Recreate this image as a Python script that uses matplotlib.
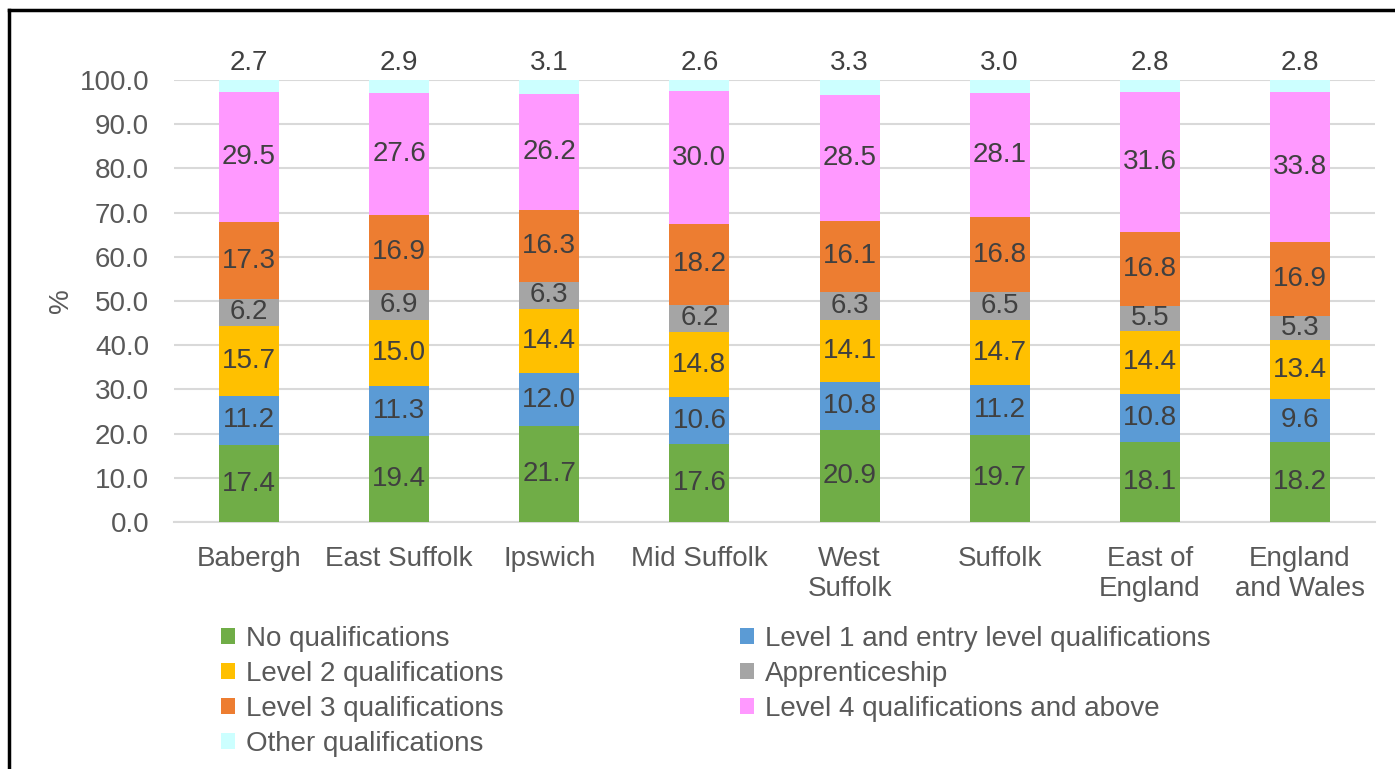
import numpy as np
import matplotlib
matplotlib.use('Agg')
from matplotlib import pyplot as plt
from matplotlib.lines import Line2D

plt.rcParams['font.family'] = ['Liberation Sans', 'DejaVu Sans']

# areas along the x axis
areas = ['Babergh', 'East Suffolk', 'Ipswich', 'Mid Suffolk', 'West\nSuffolk',
         'Suffolk', 'East of\nEngland', 'England\nand Wales']

# share of residents (%) by highest qualification
no_qual = [17.4, 19.4, 21.7, 17.6, 20.9, 19.7, 18.1, 18.2]
level1 = [11.2, 11.3, 12.0, 10.6, 10.8, 11.2, 10.8, 9.6]
level2 = [15.7, 15.0, 14.4, 14.8, 14.1, 14.7, 14.4, 13.4]
apprentice = [6.2, 6.9, 6.3, 6.2, 6.3, 6.5, 5.5, 5.3]
level3 = [17.3, 16.9, 16.3, 18.2, 16.1, 16.8, 16.8, 16.9]
level4 = [29.5, 27.6, 26.2, 30.0, 28.5, 28.1, 31.6, 33.8]
other = [2.7, 2.9, 3.1, 2.6, 3.3, 3.0, 2.8, 2.8]

series = [
    ('No qualifications', no_qual, '#70AD47'),
    ('Level 1 and entry level qualifications', level1, '#5B9BD5'),
    ('Level 2 qualifications', level2, '#FFC000'),
    ('Apprenticeship', apprentice, '#A5A5A5'),
    ('Level 3 qualifications', level3, '#ED7D31'),
    ('Level 4 qualifications and above', level4, '#FF99FF'),
    ('Other qualifications', other, '#CCFFFF'),
]

W, H = 1395, 769
fig = plt.figure(figsize=(W / 100, H / 100), dpi=100)
ax = fig.add_axes([174 / W, 1 - 522 / H, (1375 - 174) / W, (522 - 80) / H])

x = np.arange(len(areas))
bottom = np.zeros(len(areas))
handles = []
for i, (name, vals, col) in enumerate(series):
    vals = np.array(vals)
    bars = ax.bar(x, vals, 0.4, bottom=bottom, color=col, label=name, zorder=3)
    handles.append(bars)
    if i < len(series) - 1:
        for xi, b, v in zip(x, bottom, vals):
            ax.text(xi, b + v / 2, f'{v:.1f}', ha='center', va='center',
                    fontsize=20, color='#404040', zorder=4)
    else:
        # the last series is labelled above the bar
        for xi, b, v in zip(x, bottom, vals):
            ax.annotate(f'{v:.1f}', (xi, b + v), xytext=(0, 12),
                        textcoords='offset points', ha='center', va='center',
                        fontsize=20, color='#404040', annotation_clip=False)
    bottom = bottom + vals

ax.set_xlim(-0.5, len(areas) - 0.5)
ax.set_ylim(0, 100)
ax.set_yticks(np.arange(0, 101, 10))
ax.set_yticklabels([f'{t:.1f}' for t in np.arange(0, 101, 10)])
ax.set_xticks(x)
ax.set_xticklabels(areas, linespacing=1.2)
ax.tick_params(axis='both', length=0, labelsize=20, colors='#595959')
ax.tick_params(axis='y', pad=18)
ax.tick_params(axis='x', pad=17)
ax.yaxis.grid(True, color='#D9D9D9', lw=1.5, zorder=0)
for s in ['top', 'right', 'left']:
    ax.spines[s].set_visible(False)
ax.spines['bottom'].set_color('#D9D9D9')
ax.spines['bottom'].set_linewidth(1.5)
ax.set_ylabel('%', fontsize=20, color='#595959', labelpad=4)

# legend filled row by row, like the original
order = [0, 2, 4, 6, 1, 3, 5]
leg = fig.legend([handles[k] for k in order], [series[k][0] for k in order],
                 ncol=2, loc='upper left', bbox_to_anchor=(221 / W, 1 - 626 / H),
                 frameon=False, fontsize=20, handlelength=0.5, handleheight=0.5,
                 handletextpad=0.4, columnspacing=8.5, labelspacing=0.32,
                 borderpad=0, borderaxespad=0)
for t in leg.get_texts():
    t.set_color('#595959')

# outer frame
fig.add_artist(Line2D([9 / W, 9 / W], [0, 1 - 10 / H], color='black', lw=2.5))
fig.add_artist(Line2D([9 / W, 1], [1 - 10 / H, 1 - 10 / H], color='black', lw=2.5))

fig.savefig('out.png', dpi=100)
